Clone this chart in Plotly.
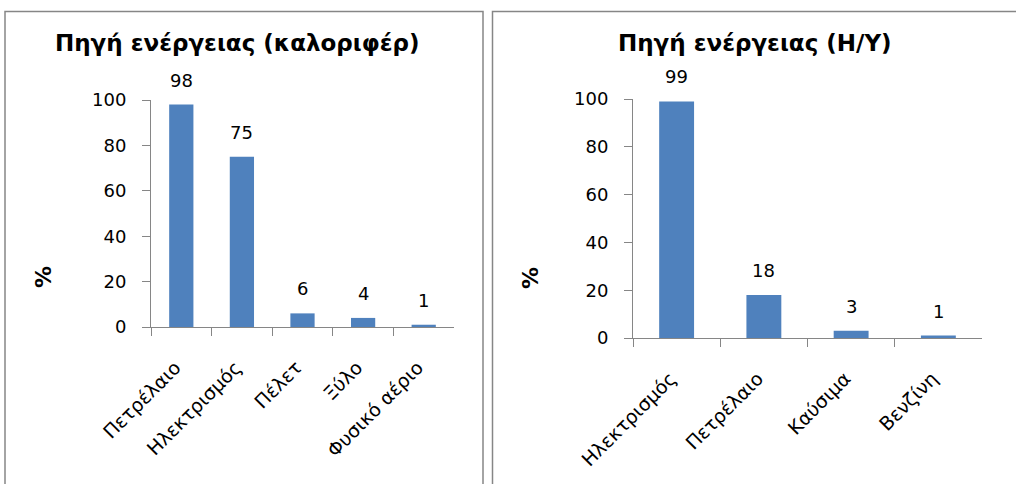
import plotly.graph_objects as go

# Heating energy sources (%)
heat_categories = ["Πετρέλαιο", "Ηλεκτρισμός", "Πέλετ", "Ξύλο", "Φυσικό αέριο"]
heat_values = [98, 75, 6, 4, 1]

# Computer energy sources (%)
pc_categories = ["Ηλεκτρισμός", "Πετρέλαιο", "Καύσιμα", "Βενζίνη"]
pc_values = [99, 18, 3, 1]

y_ticks = [0, 20, 40, 60, 80, 100]

W, H = 1016, 484
BAR = "#4F81BD"
AXIS = "#868686"
FONT = "'DejaVu Sans', 'Noto Sans', sans-serif"


def px_x(p):
    return p / W


def px_y(p):
    return 1 - p / H


fig = go.Figure()
fig.add_trace(go.Bar(x=heat_categories, y=heat_values, marker_color=BAR,
                     marker_line_width=0, xaxis="x", yaxis="y",
                     hoverinfo="x+y"))
fig.add_trace(go.Bar(x=pc_categories, y=pc_values, marker_color=BAR,
                     marker_line_width=0, xaxis="x2", yaxis="y2",
                     hoverinfo="x+y"))

xaxis_common = dict(showline=True, linecolor=AXIS, linewidth=1,
                    ticks="outside", ticklen=8, tickcolor=AXIS,
                    tickson="boundaries", tickangle=-45,
                    tickfont=dict(family=FONT, size=19, color="black"),
                    showgrid=False, zeroline=False, fixedrange=True,
                    automargin=False, ticklabelstandoff=21,
                    ticklabelshift=-6)
yaxis_common = dict(range=[0, 100], tickvals=y_ticks, showline=True,
                    linecolor=AXIS, linewidth=1, ticks="outside", ticklen=8,
                    tickcolor=AXIS, showgrid=False, zeroline=False,
                    tickfont=dict(family=FONT, size=18, color="black"),
                    fixedrange=True, automargin=False, ticklabelstandoff=12)

fig.update_layout(
    template="none",
    width=W, height=H,
    margin=dict(l=0, r=0, t=0, b=0, autoexpand=False),
    paper_bgcolor="white", plot_bgcolor="white",
    showlegend=False, bargap=0.6,
    xaxis=dict(domain=[px_x(151), px_x(454)], anchor="y", **xaxis_common),
    yaxis=dict(domain=[px_y(327), px_y(100)], anchor="x", **yaxis_common),
    xaxis2=dict(domain=[px_x(633), px_x(982)], anchor="y2", **xaxis_common),
    yaxis2=dict(domain=[px_y(338), px_y(99)], anchor="x2", **yaxis_common),
)

# Value labels above each bar
annotations = []
for cats, vals, xa, ya in [(heat_categories, heat_values, "x", "y"),
                           (pc_categories, pc_values, "x2", "y2")]:
    for c, v in zip(cats, vals):
        annotations.append(dict(x=c, y=v, xref=xa, yref=ya, text=str(v),
                                showarrow=False, yanchor="bottom", yshift=12,
                                font=dict(family=FONT, size=18, color="black")))

# Chart titles and y-axis titles
annotations += [
    dict(x=px_x(237), y=px_y(43), xref="paper", yref="paper",
         text="<b>Πηγή ενέργειας (καλοριφέρ)</b>", showarrow=False,
         xanchor="center", yanchor="middle",
         font=dict(family=FONT, size=23, color="black")),
    dict(x=px_x(755), y=px_y(43), xref="paper", yref="paper",
         text="<b>Πηγή ενέργειας (Η/Υ)</b>", showarrow=False,
         xanchor="center", yanchor="middle",
         font=dict(family=FONT, size=23, color="black")),
    dict(x=px_x(43), y=px_y(277), xref="paper", yref="paper",
         text="<b>%</b>", showarrow=False, textangle=-90,
         xanchor="center", yanchor="middle",
         font=dict(family=FONT, size=22, color="black")),
    dict(x=px_x(530), y=px_y(278), xref="paper", yref="paper",
         text="<b>%</b>", showarrow=False, textangle=-90,
         xanchor="center", yanchor="middle",
         font=dict(family=FONT, size=22, color="black")),
]
fig.update_layout(annotations=annotations)

# Chart-area frames
frame = dict(type="rect", xref="paper", yref="paper",
             line=dict(color=AXIS, width=1.5), fillcolor="rgba(0,0,0,0)")
fig.update_layout(shapes=[
    dict(x0=px_x(5), x1=px_x(483), y0=px_y(494), y1=px_y(11.5), **frame),
    dict(x0=px_x(492.5), x1=px_x(1026), y0=px_y(494), y1=px_y(11.5), **frame),
])

fig.write_html("out.html")
